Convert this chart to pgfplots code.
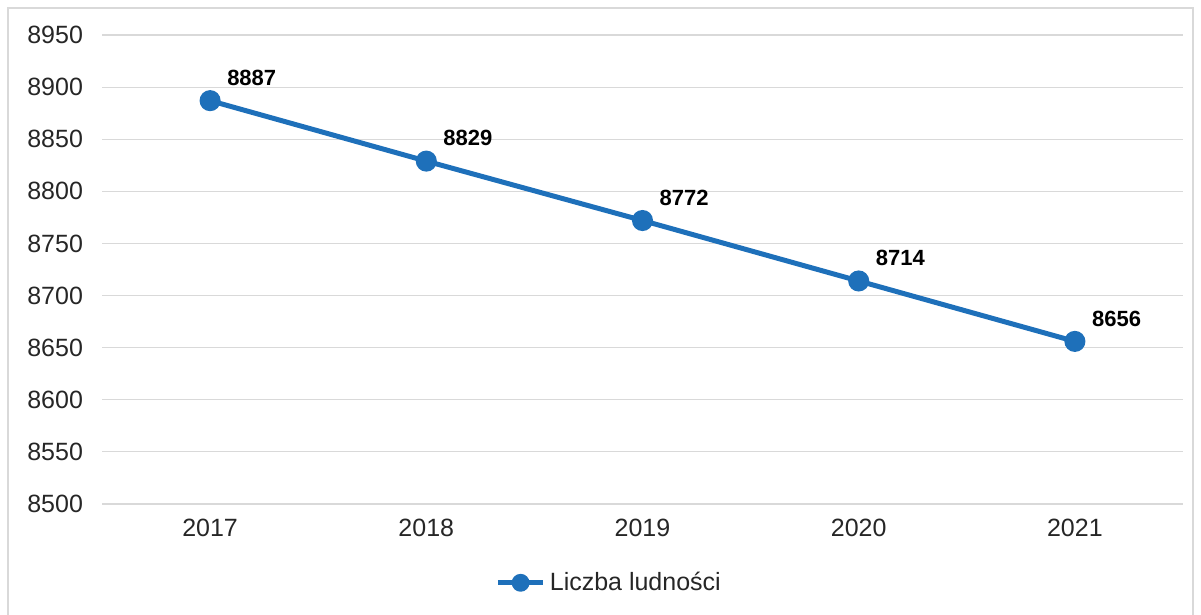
\documentclass[border=0pt]{standalone}
\usepackage{pgfplots}
\pgfplotsset{compat=1.18}
\usepackage{fontspec}
\setmainfont{Liberation Sans}
\definecolor{lineblue}{RGB}{30,112,186}
\definecolor{gridgray}{RGB}{217,217,217}
\definecolor{txt}{RGB}{38,38,38}
\begin{document}
\begin{tikzpicture}
\path[use as bounding box] (0,0) rectangle (600.5pt,307.5pt);
\draw[gridgray, line width=0.6pt] (4pt,-2pt) -- (4pt,303.5pt) -- (596.5pt,303.5pt) -- (596.5pt,-2pt);
\begin{axis}[
  at={(51pt,55.5pt)}, anchor=south west,
  scale only axis, width=540.5pt, height=234.5pt,
  xmin=-0.5, xmax=4.5, ymin=8500, ymax=8950,
  xtick={0,1,2,3,4}, xticklabels={2017,2018,2019,2020,2021},
  ytick={8500,8550,...,8950},
  axis line style={draw=none},
  major tick length=0pt,
  ymajorgrids, grid style={gridgray, line width=0.6pt},
  tick label style={font=\fontsize{12.5}{14}\selectfont, text=txt},
  yticklabel style={xshift=-6pt},
  xticklabel style={yshift=-4pt},
  /pgf/number format/assume math mode=true,
  /pgf/number format/1000 sep={},
  legend style={at={(0.47,-0.168)}, anchor=center, draw=none, fill=none,
    font=\fontsize{12.5}{14}\selectfont, text=txt, inner sep=0pt},
  legend image code/.code={
    \draw[mark repeat=2,mark phase=2,mark size=3.2pt] plot coordinates {(0cm,0cm) (0.4cm,0cm) (0.8cm,0cm)};},
  legend cell align=left,
  clip=false,
]
\addplot[lineblue, line width=2.5pt, mark=*, mark size=4pt, mark options={fill=lineblue, draw=lineblue},
  nodes near coords, point meta=explicit symbolic,
  every node near coord/.style={anchor=south west, xshift=4pt, yshift=3pt, font=\fontsize{11}{13}\selectfont\bfseries, text=black}]
  coordinates {(0,8887)[8887] (1,8829)[8829] (2,8772)[8772] (3,8714)[8714] (4,8656)[8656]};
\addlegendentry{Liczba ludności}
\end{axis}
\end{tikzpicture}
\end{document}
